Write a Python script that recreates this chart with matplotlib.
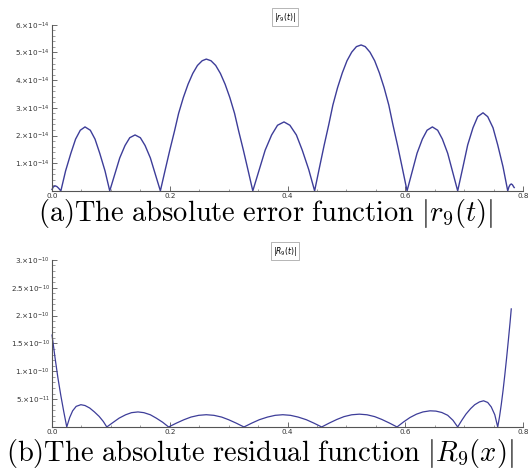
import numpy as np
import matplotlib
matplotlib.use("Agg")
import matplotlib.pyplot as plt
from matplotlib.ticker import MultipleLocator, AutoMinorLocator

plt.rcParams['mathtext.fontset'] = 'dejavusans'

# |r9(t)|, values in units of 1e-14
t_err = [0.000, 0.002, 0.005, 0.008, 0.011, 0.015,
         0.023, 0.032, 0.040, 0.048, 0.056, 0.065, 0.073, 0.081, 0.090, 0.098,
         0.107, 0.115, 0.124, 0.132, 0.141, 0.150, 0.158, 0.167, 0.175, 0.184,
         0.192, 0.200, 0.208, 0.215, 0.223, 0.231, 0.239, 0.247, 0.255, 0.262,
         0.270, 0.278, 0.286, 0.294, 0.302, 0.310, 0.317, 0.325, 0.333, 0.341,
         0.352, 0.362, 0.373, 0.383, 0.394, 0.404, 0.415, 0.425, 0.436, 0.446,
         0.454, 0.462, 0.470, 0.477, 0.485, 0.493, 0.501, 0.509, 0.517, 0.525,
         0.532, 0.540, 0.548, 0.556, 0.564, 0.572, 0.579, 0.587, 0.595, 0.603,
         0.612, 0.620, 0.629, 0.637, 0.646, 0.655, 0.663, 0.672, 0.680, 0.689,
         0.698, 0.706, 0.715, 0.723, 0.732, 0.740, 0.749, 0.757, 0.766, 0.774,
         0.776, 0.778, 0.780, 0.782, 0.784, 0.785]
r_err = [0.05, 0.14, 0.18, 0.16, 0.10, 0.0,
         0.72, 1.36, 1.87, 2.19, 2.31, 2.19, 1.87, 1.36, 0.72, 0.0,
         0.63, 1.19, 1.64, 1.92, 2.02, 1.92, 1.64, 1.19, 0.63, 0.0,
         0.74, 1.47, 2.16, 2.80, 3.37, 3.85, 4.24, 4.53, 4.70, 4.76,
         4.70, 4.53, 4.24, 3.85, 3.37, 2.80, 2.16, 1.47, 0.74, 0.0,
         0.77, 1.47, 2.02, 2.37, 2.49, 2.37, 2.02, 1.47, 0.77, 0.0,
         0.82, 1.63, 2.39, 3.10, 3.73, 4.26, 4.70, 5.01, 5.21, 5.27,
         5.21, 5.01, 4.70, 4.26, 3.73, 3.10, 2.39, 1.63, 0.82, 0.0,
         0.72, 1.36, 1.87, 2.19, 2.31, 2.19, 1.87, 1.36, 0.72, 0.0,
         0.87, 1.66, 2.28, 2.68, 2.82, 2.68, 2.28, 1.66, 0.87, 0.0,
         0.14, 0.22, 0.25, 0.22, 0.15, 0.12]

# |R9(x)|, values in units of 1e-11
x_res = [0.000, 0.005, 0.010, 0.015, 0.020, 0.025,
         0.030, 0.035, 0.041, 0.049, 0.056, 0.064, 0.072, 0.080, 0.087, 0.093,
         0.104, 0.114, 0.125, 0.135, 0.146, 0.156, 0.167, 0.177, 0.188, 0.198,
         0.211, 0.224, 0.236, 0.249, 0.262, 0.275, 0.288, 0.300, 0.313, 0.326,
         0.339, 0.352, 0.366, 0.379, 0.392, 0.405, 0.418, 0.432, 0.445, 0.458,
         0.471, 0.484, 0.496, 0.509, 0.522, 0.535, 0.548, 0.560, 0.573, 0.586,
         0.597, 0.608, 0.619, 0.630, 0.642, 0.652, 0.662, 0.672, 0.681, 0.689,
         0.696, 0.703, 0.711, 0.718, 0.726, 0.733, 0.740, 0.746, 0.752, 0.757,
         0.760, 0.763, 0.766, 0.769, 0.772, 0.775, 0.778, 0.780]
r_res = [16.5, 12.5, 8.8, 5.6, 2.7, 0.0,
         1.7, 2.9, 3.7, 4.0, 3.85, 3.4, 2.7, 1.9, 1.0, 0.0,
         0.84, 1.59, 2.19, 2.57, 2.70, 2.57, 2.19, 1.59, 0.84, 0.0,
         0.68, 1.30, 1.78, 2.09, 2.20, 2.09, 1.78, 1.30, 0.68, 0.0,
         0.68, 1.30, 1.78, 2.09, 2.20, 2.09, 1.78, 1.30, 0.68, 0.0,
         0.71, 1.36, 1.86, 2.19, 2.30, 2.19, 1.86, 1.36, 0.71, 0.0,
         0.9, 1.7, 2.3, 2.7, 2.9, 2.85, 2.6, 2.1, 1.2, 0.0,
         1.2, 2.3, 3.3, 4.0, 4.5, 4.7, 4.4, 3.6, 2.2, 0.0,
         1.8, 4.0, 6.5, 9.3, 12.3, 15.5, 18.8, 21.2]

x_ticks = [0.0, 0.2, 0.4, 0.6, 0.8]
x_labels = ["0.0", "0.2", "0.4", "0.6", "0.8"]
err_yticks = [1e-14, 2e-14, 3e-14, 4e-14, 5e-14, 6e-14]
err_ylabels = [r"1.$\times$10$^{-14}$", r"2.$\times$10$^{-14}$", r"3.$\times$10$^{-14}$",
               r"4.$\times$10$^{-14}$", r"5.$\times$10$^{-14}$", r"6.$\times$10$^{-14}$"]
res_yticks = [5e-11, 1e-10, 1.5e-10, 2e-10, 2.5e-10, 3e-10]
res_ylabels = [r"5.$\times$10$^{-11}$", r"1.$\times$10$^{-10}$", r"1.5$\times$10$^{-10}$",
               r"2.$\times$10$^{-10}$", r"2.5$\times$10$^{-10}$", r"3.$\times$10$^{-10}$"]

line_col = (0.24, 0.24, 0.6)
axis_col = "#555555"

fig = plt.figure(figsize=(5.31, 4.76), dpi=100)
ax1 = fig.add_axes([0.098, 0.599, 0.887, 0.349])
ax2 = fig.add_axes([0.098, 0.103, 0.887, 0.351])


def style(ax, yticks, ylabels, ymax, title, title_y):
    ax.set_xlim(0, 0.8)
    ax.set_ylim(0, ymax)
    for s in ["top", "right"]:
        ax.spines[s].set_visible(False)
    for s in ["left", "bottom"]:
        ax.spines[s].set_color(axis_col)
        ax.spines[s].set_linewidth(0.8)
    ax.set_xticks(x_ticks)
    ax.set_xticklabels(x_labels)
    ax.set_yticks(yticks)
    ax.set_yticklabels(ylabels)
    ax.xaxis.set_minor_locator(MultipleLocator(0.05))
    ax.yaxis.set_minor_locator(AutoMinorLocator(5))
    ax.tick_params(which="major", direction="in", length=3.5, width=0.6,
                   color=axis_col, labelsize=5.2, labelcolor="#333333", pad=1.5)
    ax.tick_params(which="minor", direction="in", length=1.8, width=0.4,
                   color=axis_col)
    ax.patch.set_alpha(0)
    fig.text(0.537, title_y, title, fontsize=5.5, ha="center", va="center",
             bbox=dict(boxstyle="square,pad=0.3", fc="white", ec="#999999", lw=0.5))


ax1.plot(t_err, np.array(r_err) * 1e-14, color=line_col, lw=1.0, clip_on=False)
style(ax1, err_yticks, err_ylabels, 6e-14, r"$|r_9(t)|$", 1 - 17 / 476)

ax2.plot(x_res, np.array(r_res) * 1e-11, color=line_col, lw=0.9, clip_on=False)
style(ax2, res_yticks, res_ylabels, 3e-10, r"$|R_9(t)|$", 1 - 251 / 476)

fig.text(0.50, 1 - 214 / 476, r"$\mathrm{(a)The\ absolute\ error\ function\ }|r_9(t)|$",
         fontsize=20.5, ha="center", va="center", math_fontfamily="cm")
fig.text(0.49, 1 - 454 / 476, r"$\mathrm{(b)The\ absolute\ residual\ function\ }|R_9(x)|$",
         fontsize=20.5, ha="center", va="center", math_fontfamily="cm")

fig.savefig("out.png", dpi=100)
